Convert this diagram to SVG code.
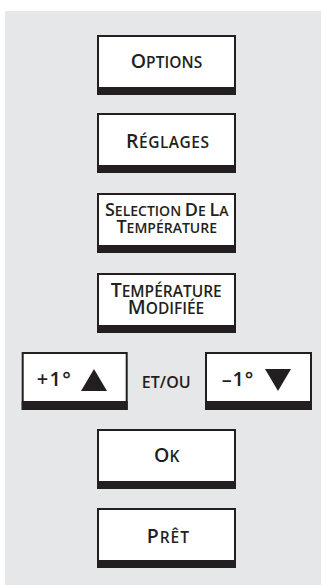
<svg xmlns="http://www.w3.org/2000/svg" width="321" height="585" viewBox="0 0 321 585">
<style>
.box{fill:#fff;stroke:#231f20;stroke-width:2}
.bar{fill:#231f20}
.t{font-family:"Open Sans","Liberation Sans",sans-serif;font-weight:600;fill:#231f20;text-anchor:middle}
.L{font-size:19.5px}
.s{font-size:15.5px}
.L2{font-size:18px}
.s2{font-size:14px}
.tri{fill:#231f20}
</style>
<rect x="5" y="11" width="316" height="574" fill="#e6e7e8"/>
<g id="connectors"></g>
<g id="options">
<rect class="box" x="98" y="36" width="137" height="58"/>
<rect class="bar" x="97" y="87" width="139" height="8"/>
<text class="t" x="166.5" y="68" textLength="71.6"><tspan class="L">O</tspan><tspan class="s">PTIONS</tspan></text>
</g>
<g id="reglages">
<rect class="box" x="98" y="114" width="137" height="58"/>
<rect class="bar" x="97" y="165" width="139" height="8"/>
<text class="t" x="167.5" y="147.5" textLength="83"><tspan class="L">R</tspan><tspan class="s">ÉGLAGES</tspan></text>
</g>
<g id="selection">
<rect class="box" x="98" y="194" width="137" height="58"/>
<rect class="bar" x="97" y="245" width="139" height="8"/>
<text class="t"><tspan x="166.7" y="216"><tspan class="L2">S</tspan><tspan class="s2">ELECTION </tspan><tspan class="L2">D</tspan><tspan class="s2">E </tspan><tspan class="L2">L</tspan><tspan class="s2">A</tspan></tspan><tspan x="166.7" y="232.5"><tspan class="L2">T</tspan><tspan class="s2">EMPÉRATURE</tspan></tspan></text>
</g>
<g id="temperature-modifiee">
<rect class="box" x="98" y="274" width="137" height="58"/>
<rect class="bar" x="97" y="325" width="139" height="8"/>
<text class="t"><tspan x="166.2" y="297.3"><tspan class="L">T</tspan><tspan class="s">EMPÉRATURE</tspan></tspan><tspan x="166" y="314"><tspan class="L">M</tspan><tspan class="s">ODIFIÉE</tspan></tspan></text>
</g>
<g id="plus-un">
<rect class="box" x="22.7" y="353" width="104" height="56"/>
<rect class="bar" x="21.7" y="401" width="106" height="9"/>
<text class="t" x="53.8" y="385.7" font-size="20" textLength="34.3">+1°</text>
<polygon class="tri" points="81,391 107,391 94,369"/>
</g>
<g id="et-ou">
<text class="t" x="166.2" y="387.7" font-size="16" textLength="49">ET/OU</text>
</g>
<g id="moins-un">
<rect class="box" x="206" y="353" width="105" height="56"/>
<rect class="bar" x="205" y="401" width="107" height="9"/>
<text class="t" x="237.5" y="385.5" font-size="20" textLength="31.6">–1°</text>
<polygon class="tri" points="265,369 291,369 278,391"/>
</g>
<g id="ok">
<rect class="box" x="98" y="430" width="137" height="58"/>
<rect class="bar" x="97" y="481" width="139" height="8"/>
<text class="t" x="166.7" y="462.3" textLength="25.3"><tspan class="L">O</tspan><tspan class="s">K</tspan></text>
</g>
<g id="pret">
<rect class="box" x="98" y="509" width="137" height="58"/>
<rect class="bar" x="97" y="560" width="139" height="8"/>
<text class="t" x="167.8" y="543.3" textLength="42.3"><tspan class="L">P</tspan><tspan class="s">RÊT</tspan></text>
</g>
</svg>
